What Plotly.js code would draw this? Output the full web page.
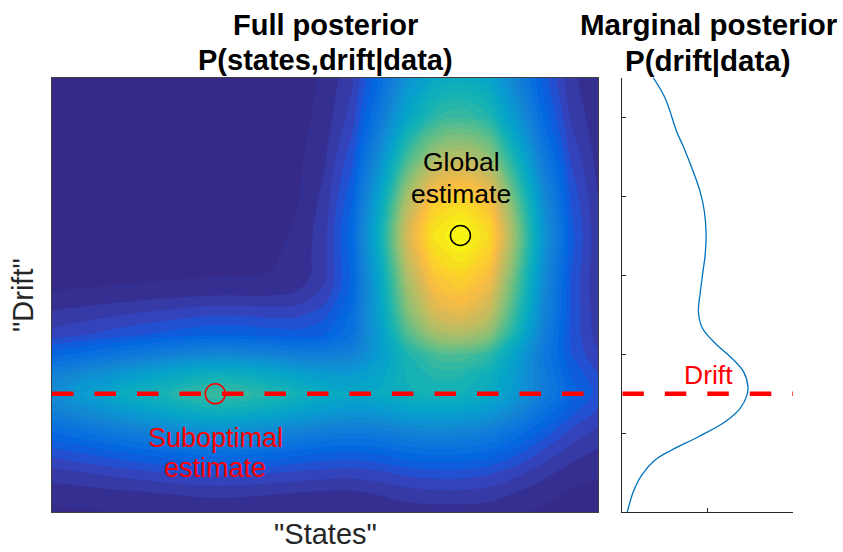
<!DOCTYPE html>
<html>
<head>
<meta charset="utf-8">
<script src="https://cdn.plot.ly/plotly-3.0.1.min.js"></script>
<style>
html,body{margin:0;padding:0;background:#fff;}
#chart{width:843px;height:552px;}
</style>
</head>
<body>
<div id="chart"></div>
<script>
// ---- data ----
var states = [0, 1, 2, 3, 4, 4.5, 5, 5.5, 6, 6.5, 7, 7.5, 8, 8.5, 9, 9.5, 10];
var drift = [0, 0.25, 0.5, 0.75, 1, 1.25, 1.5, 1.75, 2, 2.25, 2.5, 2.75, 3, 3.25, 3.5, 3.75, 4, 4.5, 5, 5.5];
var posterior = [
  [0.020,0.024,0.028,0.031,0.029,0.027,0.026,0.026,0.029,0.035,0.037,0.037,0.034,0.028,0.020,0.014,0.011],
  [0.035,0.043,0.051,0.057,0.053,0.050,0.047,0.047,0.054,0.064,0.069,0.069,0.064,0.050,0.035,0.023,0.017],
  [0.065,0.081,0.097,0.109,0.102,0.094,0.089,0.087,0.094,0.108,0.114,0.113,0.104,0.083,0.058,0.039,0.028],
  [0.110,0.138,0.166,0.188,0.174,0.161,0.150,0.145,0.155,0.174,0.182,0.179,0.165,0.132,0.093,0.062,0.045],
  [0.170,0.214,0.258,0.292,0.270,0.249,0.232,0.222,0.231,0.255,0.262,0.257,0.236,0.191,0.137,0.092,0.066],
  [0.245,0.309,0.374,0.422,0.391,0.360,0.335,0.319,0.328,0.357,0.365,0.357,0.328,0.266,0.192,0.130,0.093],
  [0.305,0.385,0.466,0.526,0.487,0.449,0.417,0.397,0.409,0.445,0.455,0.445,0.409,0.331,0.239,0.161,0.115],
  [0.251,0.317,0.383,0.433,0.401,0.371,0.350,0.345,0.385,0.453,0.484,0.482,0.443,0.345,0.234,0.148,0.101],
  [0.161,0.203,0.246,0.278,0.259,0.242,0.238,0.259,0.348,0.471,0.539,0.550,0.506,0.374,0.228,0.127,0.078],
  [0.086,0.108,0.131,0.149,0.141,0.136,0.150,0.201,0.352,0.548,0.664,0.690,0.635,0.450,0.249,0.121,0.063],
  [0.056,0.070,0.085,0.098,0.094,0.095,0.117,0.185,0.370,0.609,0.752,0.786,0.723,0.505,0.271,0.123,0.059],
  [0.028,0.034,0.042,0.049,0.049,0.055,0.085,0.165,0.378,0.649,0.813,0.853,0.785,0.543,0.283,0.123,0.054],
  [0.013,0.015,0.019,0.023,0.026,0.034,0.069,0.158,0.391,0.687,0.867,0.911,0.839,0.577,0.297,0.125,0.053],
  [0.010,0.011,0.015,0.019,0.022,0.031,0.069,0.164,0.413,0.729,0.921,0.969,0.891,0.613,0.315,0.132,0.055],
  [0.007,0.008,0.012,0.015,0.019,0.029,0.068,0.168,0.428,0.757,0.957,1.000,0.927,0.637,0.326,0.136,0.056],
  [0.006,0.007,0.010,0.013,0.016,0.026,0.064,0.160,0.409,0.726,0.918,0.966,0.889,0.611,0.313,0.130,0.053],
  [0.005,0.005,0.008,0.010,0.014,0.023,0.058,0.147,0.379,0.673,0.851,0.895,0.824,0.566,0.290,0.121,0.050],
  [0.005,0.005,0.007,0.009,0.012,0.019,0.047,0.117,0.299,0.530,0.670,0.705,0.649,0.446,0.229,0.096,0.040],
  [0.005,0.005,0.007,0.008,0.010,0.015,0.036,0.088,0.223,0.395,0.499,0.525,0.483,0.333,0.171,0.073,0.031],
  [0.005,0.005,0.006,0.007,0.009,0.013,0.030,0.071,0.177,0.313,0.395,0.415,0.382,0.263,0.136,0.058,0.026]
];
var marginalDrift = [0.0, 0.26, 0.471, 0.661, 0.788, 0.956, 1.146, 1.316, 1.48, 1.59, 1.78, 1.95, 2.14, 2.33, 2.54, 2.77, 3.0, 3.26, 3.51, 3.806, 4.06, 4.31, 4.63, 4.82, 5.247, 5.5];
var marginalP = [0.058, 0.129, 0.228, 0.384, 0.58, 0.892, 1.205, 1.381, 1.46, 1.472, 1.42, 1.284, 1.088, 0.939, 0.892, 0.912, 0.939, 0.971, 0.982, 0.962, 0.912, 0.833, 0.716, 0.638, 0.501, 0.364];
var trueDrift = 1.5;
var globalEstimate = [7.48, 3.505];   // [state, drift]
var suboptimalEstimate = [2.99, 1.5]; // [state, drift]
var statesRange = [0, 10];
var driftRange = [0, 5.5];
var marginalRange = [0, 2];
var marginalXTicks = [0, 1, 2];
var marginalYTicks = [0, 1, 2, 3, 4, 5];

// ---- styling ----
var parula = [
  [0/63, 'rgb(53,42,135)'], [2/63, 'rgb(54,55,160)'], [4/63, 'rgb(50,67,186)'],
  [6/63, 'rgb(32,83,212)'], [8/63, 'rgb(3,99,225)'], [12/63, 'rgb(13,117,220)'],
  [16/63, 'rgb(20,133,212)'], [20/63, 'rgb(9,152,209)'], [24/63, 'rgb(6,167,198)'],
  [28/63, 'rgb(21,177,180)'], [32/63, 'rgb(56,185,158)'], [36/63, 'rgb(101,190,134)'],
  [40/63, 'rgb(146,191,115)'], [44/63, 'rgb(183,189,100)'], [48/63, 'rgb(217,186,86)'],
  [52/63, 'rgb(248,187,68)'], [56/63, 'rgb(252,206,46)'], [60/63, 'rgb(245,228,29)'],
  [63/63, 'rgb(249,251,14)']
];
var W = 843, H = 552;
function px(x) { return x / W; }
function py(y) { return 1 - y / H; }
var FONT = '"Liberation Sans", Arial, Helvetica, sans-serif';
var axisColor = '#262626';

var traces = [
  {
    type: 'contour', x: states, y: drift, z: posterior,
    xaxis: 'x', yaxis: 'y',
    colorscale: parula, zmin: 0, zmax: 1, showscale: false,
    contours: {coloring: 'fill', start: 0.025, end: 1, size: 0.025, showlines: false},
    line: {width: 0, smoothing: 1.2},
    hoverinfo: 'skip'
  },
  {
    type: 'scatter', mode: 'lines', x: statesRange, y: [trueDrift, trueDrift],
    xaxis: 'x', yaxis: 'y',
    line: {color: 'rgb(255,0,0)', width: 4.5, dash: '21.5px,21px'},
    hoverinfo: 'skip'
  },
  {
    type: 'scatter', mode: 'markers', x: [globalEstimate[0]], y: [globalEstimate[1]],
    xaxis: 'x', yaxis: 'y',
    marker: {symbol: 'circle-open', size: 20, color: '#000', line: {width: 1.5, color: '#000'}},
    hoverinfo: 'skip'
  },
  {
    type: 'scatter', mode: 'markers', x: [suboptimalEstimate[0]], y: [suboptimalEstimate[1]],
    xaxis: 'x', yaxis: 'y',
    marker: {symbol: 'circle-open', size: 20, color: 'rgb(255,0,0)', line: {width: 1.5, color: 'rgb(255,0,0)'}},
    hoverinfo: 'skip'
  },
  {
    type: 'scatter', mode: 'lines', x: marginalRange, y: [trueDrift, trueDrift],
    xaxis: 'x2', yaxis: 'y2',
    line: {color: 'rgb(255,0,0)', width: 4.5, dash: '21.5px,21px'},
    hoverinfo: 'skip'
  },
  {
    type: 'scatter', mode: 'lines', x: marginalP, y: marginalDrift,
    xaxis: 'x2', yaxis: 'y2',
    line: {color: 'rgb(0,114,189)', width: 1.3, shape: 'spline', smoothing: 1},
    hoverinfo: 'skip'
  }
];

var plotTop = 78, plotBottom = 512.2;
var layout = {
  width: W, height: H,
  margin: {l: 0, r: 0, t: 0, b: 0},
  paper_bgcolor: '#fff', plot_bgcolor: '#fff',
  showlegend: false,
  font: {family: FONT, color: axisColor},
  xaxis: {
    domain: [px(52), px(598)], range: statesRange, anchor: 'y',
    showticklabels: false, ticks: '', showgrid: false, zeroline: false,
    showline: true, mirror: true, linecolor: '#404040', linewidth: 1
  },
  yaxis: {
    domain: [py(plotBottom), py(plotTop)], range: driftRange, anchor: 'x',
    showticklabels: false, ticks: '', showgrid: false, zeroline: false,
    showline: true, mirror: true, linecolor: '#404040', linewidth: 1
  },
  xaxis2: {
    domain: [px(622.3), px(793)], range: marginalRange, anchor: 'y2',
    tickvals: marginalXTicks, ticks: 'inside', ticklen: 4, tickcolor: axisColor, tickwidth: 1,
    showticklabels: false, showgrid: false, zeroline: false,
    showline: true, linecolor: axisColor, linewidth: 1
  },
  yaxis2: {
    domain: [py(plotBottom), py(plotTop)], range: driftRange, anchor: 'x2',
    tickvals: marginalYTicks, ticks: 'inside', ticklen: 4, tickcolor: axisColor, tickwidth: 1,
    showticklabels: false, showgrid: false, zeroline: false,
    showline: true, linecolor: axisColor, linewidth: 1
  },
  annotations: [
    {text: '<b>Full posterior</b>', x: px(325.5), y: py(25), xref: 'paper', yref: 'paper',
     xanchor: 'center', yanchor: 'middle', showarrow: false, font: {size: 29, color: '#000', family: FONT}},
    {text: '<b>P(states,drift|data)</b>', x: px(325.5), y: py(60), xref: 'paper', yref: 'paper',
     xanchor: 'center', yanchor: 'middle', showarrow: false, font: {size: 29, color: '#000', family: FONT}},
    {text: '<b>Marginal posterior</b>', x: px(709), y: py(25), xref: 'paper', yref: 'paper',
     xanchor: 'center', yanchor: 'middle', showarrow: false, font: {size: 29.5, color: '#000', family: FONT}},
    {text: '<b>P(drift|data)</b>', x: px(708), y: py(60), xref: 'paper', yref: 'paper',
     xanchor: 'center', yanchor: 'middle', showarrow: false, font: {size: 29.5, color: '#000', family: FONT}},
    {text: 'Global', x: px(461), y: py(162), xref: 'paper', yref: 'paper',
     xanchor: 'center', yanchor: 'middle', showarrow: false, font: {size: 26.5, color: '#000', family: FONT}},
    {text: 'estimate', x: px(461), y: py(194), xref: 'paper', yref: 'paper',
     xanchor: 'center', yanchor: 'middle', showarrow: false, font: {size: 26.5, color: '#000', family: FONT}},
    {text: 'Suboptimal', x: px(215), y: py(438), xref: 'paper', yref: 'paper',
     xanchor: 'center', yanchor: 'middle', showarrow: false, font: {size: 27, color: 'rgb(255,0,0)', family: FONT}},
    {text: 'estimate', x: px(215), y: py(468), xref: 'paper', yref: 'paper',
     xanchor: 'center', yanchor: 'middle', showarrow: false, font: {size: 27, color: 'rgb(255,0,0)', family: FONT}},
    {text: 'Drift', x: px(708), y: py(375), xref: 'paper', yref: 'paper',
     xanchor: 'center', yanchor: 'middle', showarrow: false, font: {size: 26.5, color: 'rgb(255,0,0)', family: FONT}},
    {text: '"States"', x: px(325), y: py(534), xref: 'paper', yref: 'paper',
     xanchor: 'center', yanchor: 'middle', showarrow: false, font: {size: 29, color: axisColor, family: FONT}},
    {text: '"Drift"', x: px(23), y: py(295), xref: 'paper', yref: 'paper', textangle: -90,
     xanchor: 'center', yanchor: 'middle', showarrow: false, font: {size: 29, color: axisColor, family: FONT}}
  ]
};

Plotly.newPlot('chart', traces, layout, {displayModeBar: false, staticPlot: true});
</script>
</body>
</html>
